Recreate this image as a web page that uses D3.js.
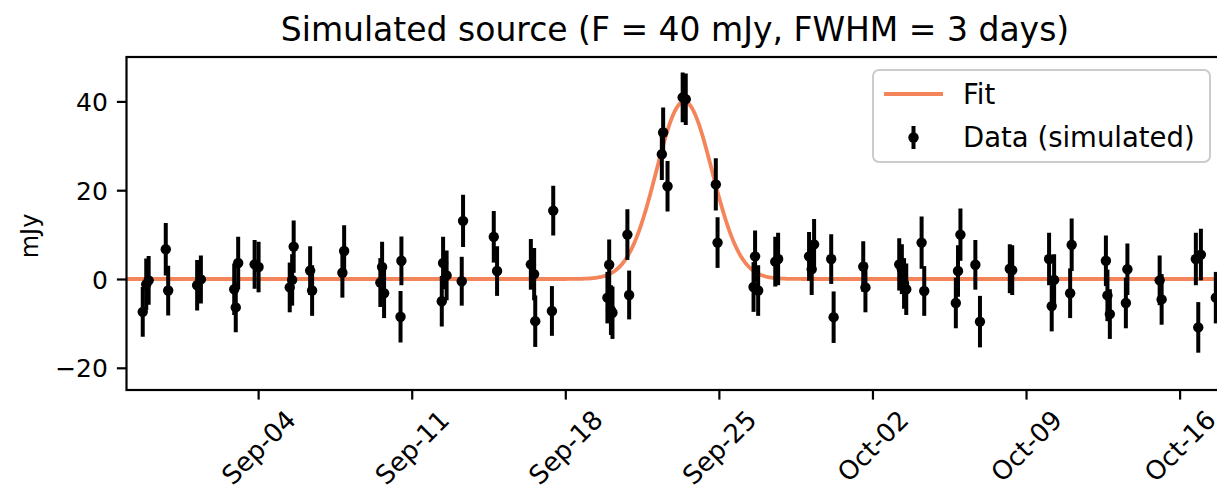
<!DOCTYPE html>
<html><head><meta charset="utf-8">
<script src="https://cdn.jsdelivr.net/npm/d3@7"></script>
<style>body{margin:0;background:#fff;overflow:hidden}svg{display:block}text{font-family:"DejaVu Sans",sans-serif;fill:#000}</style>
</head><body><svg id="c" width="1217" height="493"></svg>
<script>
// ---- data ----
const titleText = "Simulated source (F = 40 mJy, FWHM = 3 days)";
const yLabel = "mJy";
const baseDate = "2023-08-29T00:00:00Z";           // day 0 of obsDay
const xLimitDays = [0, 50];                          // Aug-29 .. Oct-18
const yLimits = [-25, 50];
const obsDay = [0.74,0.90,1.01,1.79,1.90,3.22,3.39,4.91,4.98,5.09,5.84,6.02,7.44,7.55,7.62,8.37,8.46,9.84,9.92,
  11.57,11.65,11.74,12.49,12.53,14.37,14.43,14.59,15.28,15.34,16.74,16.89,18.43,18.58,18.63,19.39,19.45,
  21.92,22.00,22.08,22.15,22.83,22.91,24.40,24.46,24.66,25.35,25.49,26.86,26.94,28.58,28.65,28.79,29.57,29.70,
  31.11,31.23,31.34,32.12,32.23,33.58,33.68,35.22,35.34,35.44,35.54,36.24,36.36,37.80,37.90,38.01,38.69,38.90,
  40.26,40.37,42.05,42.17,42.28,43.01,43.08,44.64,44.71,44.82,45.55,45.62,47.09,47.18,48.74,48.85,48.97,49.65];
const flux = [-7.4,-1.2,-0.3,6.7,-2.6,-1.4,-0.1,-2.3,-6.4,3.6,3.3,2.7,-1.9,-0.2,7.3,1.9,-2.6,1.4,6.3,
  -0.8,2.7,-3.2,-8.5,4.1,-5.0,3.6,0.8,-0.5,13.1,9.5,1.8,3.3,1.1,-9.5,-7.2,15.4,
  -4.2,3.2,-7.0,-7.6,10.0,-3.6,28.1,33.0,20.9,40.9,40.5,21.3,8.2,-1.8,5.1,-2.6,3.9,4.5,
  5.1,2.2,7.8,4.5,-8.6,2.8,-1.9,3.3,2.2,-1.0,-2.3,8.2,-2.7,-5.4,1.8,10.0,3.2,-9.6,
  2.3,2.0,4.5,-6.1,-0.2,-3.2,7.7,4.1,-3.7,-7.9,-5.4,2.2,-0.3,-4.6,4.5,-10.9,5.5,-4.2];
const fluxErr = [5.6,5.8,5.5,5.9,5.6,5.7,5.4,5.8,5.6,5.9,5.5,5.7,5.6,5.8,5.9,5.5,5.7,5.6,5.8,
  5.5,5.7,5.6,5.8,5.5,5.7,5.9,5.6,5.5,5.9,5.8,5.6,5.7,5.9,5.8,5.6,5.6,
  5.8,5.7,5.6,5.9,5.7,5.5,5.8,5.6,5.7,5.6,5.8,5.9,5.7,5.6,5.8,5.7,5.6,5.9,
  5.5,5.8,5.7,5.6,5.8,5.7,5.6,5.9,5.6,5.7,5.8,5.9,5.6,5.7,5.8,5.9,5.6,5.8,
  5.5,5.6,5.9,5.7,5.8,5.6,5.9,5.7,5.8,5.6,5.7,5.8,5.6,5.7,5.9,5.7,5.8,5.8];
const tickDates = ["2023-09-04","2023-09-11","2023-09-18","2023-09-25","2023-10-02","2023-10-09","2023-10-16"];
const yTicks = [-20, 0, 20, 40];
const fitAmp = 40, fitPeakDay = 25.42, fitFWHM = 3;
const legendLabels = ["Fit", "Data (simulated)"];
const fitColor = "#f4845a";

// ---- layout ----
const L = 126.5, R = 1223.5, T = 57, B = 390;
const DAY = 86400000, t0 = Date.parse(baseDate);
const toDate = d => new Date(t0 + d * DAY);
const x = d3.scaleUtc().domain(xLimitDays.map(toDate)).range([L, R]);
const y = d3.scaleLinear().domain(yLimits).range([B, T]);
const svg = d3.select("#c");

svg.append("defs").append("clipPath").attr("id","clip")
  .append("rect").attr("x",L).attr("y",T).attr("width",R-L).attr("height",B-T);

// fit curve (gaussian model from fit parameters)
const sig = fitFWHM / (2*Math.sqrt(2*Math.LN2));
const fitDays = d3.range(xLimitDays[0], xLimitDays[1] + 0.001, 0.05);
const line = d3.line().x(d => x(toDate(d))).y(d => y(fitAmp*Math.exp(-0.5*((d-fitPeakDay)/sig)**2)));
const plot = svg.append("g").attr("clip-path","url(#clip)");
plot.append("path").datum(fitDays).attr("d", line).attr("fill","none")
  .attr("stroke", fitColor).attr("stroke-width", 3.8);

const pts = obsDay.map((d,i) => ({t: toDate(d), f: flux[i], e: fluxErr[i]}));
plot.selectAll("line.eb").data(pts).join("line").attr("class","eb")
  .attr("x1", d => x(d.t)).attr("x2", d => x(d.t))
  .attr("y1", d => y(d.f - d.e)).attr("y2", d => y(d.f + d.e))
  .attr("stroke","#000").attr("stroke-width",4);
plot.selectAll("circle").data(pts).join("circle")
  .attr("cx", d => x(d.t)).attr("cy", d => y(d.f)).attr("r", 5.2).attr("fill","#000");

// axes
const fs = 26;
const xAxis = d3.axisBottom(x).tickValues(tickDates.map(s => new Date(s+"T00:00:00Z")))
  .tickFormat(d3.utcFormat("%b-%d")).tickSize(9.6).tickPadding(9);
const gx = svg.append("g").attr("transform",`translate(0,${B})`).call(xAxis);
gx.select(".domain").remove();
gx.selectAll(".tick line").attr("stroke","#000").attr("stroke-width",2.2);
gx.selectAll(".tick text").attr("font-size",fs).attr("fill","#000")
  .each(function(){
    const t = d3.select(this);
    const w = this.getComputedTextLength();
    const h = fs*1.0;
    const half = (w + h) * Math.SQRT1_2 / 2;
    t.attr("y",null).attr("dy",null)
     .attr("text-anchor","middle").attr("dominant-baseline","central")
     .attr("transform",`translate(0,${16 + half}) rotate(-45)`);
  });

const yAxis = d3.axisLeft(y).tickValues(yTicks).tickFormat(d => d < 0 ? "\u2212" + Math.abs(d) : d)
  .tickSize(9.6).tickPadding(9);
const gy = svg.append("g").attr("transform",`translate(${L},0)`).call(yAxis);
gy.select(".domain").remove();
gy.selectAll(".tick line").attr("stroke","#000").attr("stroke-width",2.2);
gy.selectAll(".tick text").attr("font-size",25).attr("fill","#000").attr("dy","0.36em");

// spines
svg.append("rect").attr("x",L).attr("y",T).attr("width",R-L).attr("height",B-T)
  .attr("fill","none").attr("stroke","#000").attr("stroke-width",2.2);

// title & labels
svg.append("text").attr("x",(L+R)/2).attr("y",41).attr("text-anchor","middle")
  .attr("font-size",33).text(titleText);
svg.append("text").attr("transform",`translate(38,236) rotate(-90)`)
  .attr("text-anchor","middle").attr("font-size",24).text(yLabel);

// legend
const lg = svg.append("g");
lg.append("rect").attr("x",873).attr("y",70).attr("width",337).attr("height",92).attr("rx",6)
  .attr("fill","rgba(255,255,255,0.8)").attr("stroke","#cccccc").attr("stroke-width",2);
lg.append("line").attr("x1",884).attr("x2",943).attr("y1",94).attr("y2",94)
  .attr("stroke",fitColor).attr("stroke-width",3.8);
lg.append("line").attr("x1",913.5).attr("x2",913.5).attr("y1",126).attr("y2",149)
  .attr("stroke","#000").attr("stroke-width",4);
lg.append("circle").attr("cx",913.5).attr("cy",137.5).attr("r",5.2).attr("fill","#000");
lg.selectAll("text.lt").data(legendLabels).join("text").attr("class","lt")
  .attr("x",963).attr("y",(d,i)=>94 + i*43.5).attr("dy","0.36em").attr("font-size",27.5).text(d=>d);
</script></body></html>
